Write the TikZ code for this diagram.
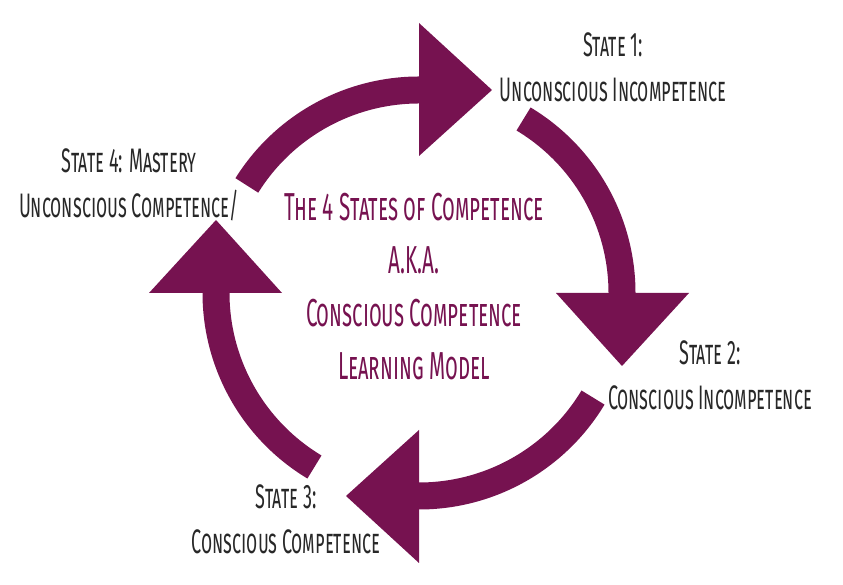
\documentclass[tikz,border=0pt]{standalone}
\usepackage{fontspec}
\usepackage{tikz}
\usetikzlibrary{calc}
\newfontfamily\statefont[FakeStretch=0.53]{Fira Sans}
\definecolor{Plum}{RGB}{118,18,80}
\definecolor{InkGray}{RGB}{40,40,40}
\tikzset{
	band/.style={line width=27pt,Plum},
	head/.style={fill=Plum},
	statelabel/.style={align=center,inner sep=0pt,text=InkGray,
		font=\statefont\scshape\fontsize{34}{45}\selectfont},
	titlelabel/.style={align=center,inner sep=0pt,text=Plum,
		font=\statefont\scshape\fontsize{39}{53}\selectfont}
}

\begin{document}
\begin{tikzpicture}[x=1pt,y=1pt]
		\useasboundingbox (0,0) rectangle (843,585);
		\coordinate (C) at (419,292);
		
		% 四段弧
		\draw[band] ($(C)+(148:203)$) arc[start angle=148,end angle=90,radius=203];
		\draw[band] ($(C)+(59:203)$) arc[start angle=59,end angle=0,radius=203];
		\draw[band] ($(C)+(-31:203)$) arc[start angle=-31,end angle=-90,radius=203];
		\draw[band] ($(C)+(-121:203)$) arc[start angle=-121,end angle=-180,radius=203];
		
		% 箭头
		\fill[head] ($(C)+(90:137)$) -- ($(C)+(90:270)$) -- ($(C)+(90:203)+(73,0)$) -- cycle;
		\fill[head] ($(C)+(0:137)$) -- ($(C)+(0:270)$) -- ($(C)+(0:203)+(0,-73)$) -- cycle;
		\fill[head] ($(C)+(-90:137)$) -- ($(C)+(-90:270)$) -- ($(C)+(-90:203)+(-73,0)$) -- cycle;
		\fill[head] ($(C)+(180:137)$) -- ($(C)+(180:270)$) -- ($(C)+(180:203)+(0,73)$) -- cycle;
		
		% 标注
		\node[statelabel] (state1) at (613,517.5) {State 1:\\Unconscious Incompetence};
		\node[statelabel] (state2) at (710,210) {State 2:\\Conscious Incompetence};
		\node[statelabel] (state3) at (286,66) {State 3:\\Conscious Competence};
		\node[statelabel] (state4) at (129,400.5) {State 4: Mastery\\Unconscious Competence/};
		
		% 中心标题
		\node[titlelabel] (title) at (414,298.5) {The 4 States of Competence\\A.K.A.\\Conscious Competence\\Learning Model};
	\end{tikzpicture}
\end{document}
